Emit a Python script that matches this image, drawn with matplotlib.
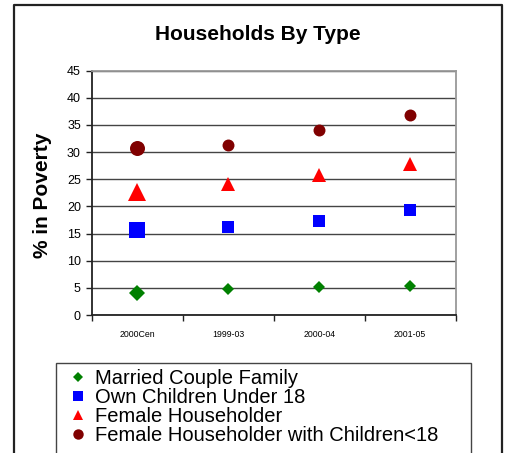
import matplotlib
matplotlib.use("Agg")
import matplotlib.pyplot as plt
from matplotlib.lines import Line2D
from matplotlib.patches import Rectangle

# Poverty rates (%) by household type across survey periods
periods = ["2000Cen", "1999-03", "2000-04", "2001-05"]
married_couple = [4.0, 4.7, 5.1, 5.4]
own_children_u18 = [15.6, 16.3, 17.4, 19.3]
female_householder = [22.7, 24.1, 25.8, 27.8]
female_hh_children = [30.7, 31.4, 34.0, 36.9]
series_names = ["Married Couple Family", "Own Children Under 18",
                "Female Householder", "Female Householder with Children<18"]

plt.rcParams["font.family"] = ["Liberation Sans", "DejaVu Sans"]

W, H = 507, 453
fig = plt.figure(figsize=(W / 100, H / 100), dpi=100)

def fx(px):
    return px / W

def fy(py):
    return 1 - py / H

# outer chart border (open at the bottom)
fig.add_artist(Line2D([fx(14), fx(14), fx(501.5), fx(501.5)],
                      [fy(460), fy(4.5), fy(4.5), fy(460)],
                      transform=fig.transFigure, color="#222222", lw=1.6))

ax = fig.add_axes([fx(92), fy(315), fx(455.5) - fx(92), fy(70.7) - fy(315)])

styles = [
    dict(marker="D", color="#008000", big=8.6, small=6.0),
    dict(marker="s", color="#0000FF", big=11.5, small=8.6),
    dict(marker="^", color="#FF0000", big=12.5, small=9.4),
    dict(marker="o", color="#800000", big=10.8, small=8.6),
]
data = [married_couple, own_children_u18, female_householder, female_hh_children]
xs = list(range(len(periods)))

for vals, st in zip(data, styles):
    for i, (x, v) in enumerate(zip(xs, vals)):
        ms = st["big"] if i == 0 else st["small"]
        ax.plot([x], [v], linestyle="none", marker=st["marker"], color=st["color"],
                markersize=ms, markeredgewidth=0, zorder=3, clip_on=False)

ax.set_xlim(-0.5, len(periods) - 0.5)
ax.set_ylim(0, 45)
ax.set_yticks(range(0, 46, 5))
ax.yaxis.grid(True, color="#444444", lw=1.0)
ax.set_axisbelow(True)

ax.set_xticks([i - 0.5 for i in range(len(periods) + 1)])
ax.set_xticklabels([])
ax.set_xticks(xs, minor=True)
ax.set_xticklabels(periods, minor=True, fontsize=6.3)
ax.tick_params(axis="x", which="major", direction="out", length=4, width=1, color="#222222")
ax.tick_params(axis="x", which="minor", length=0, pad=11)
ax.tick_params(axis="y", direction="out", length=4, width=1, color="#222222",
               labelsize=9, pad=4)

for side in ("left", "bottom"):
    ax.spines[side].set_color("#222222")
    ax.spines[side].set_linewidth(1.3)
for side in ("top", "right"):
    ax.spines[side].set_color("#999999")
    ax.spines[side].set_linewidth(1.3)

fig.text(fx(258), fy(35), "Households By Type", ha="center", va="center",
         fontsize=15, fontweight="bold")
fig.text(fx(43), fy(195), "% in Poverty", ha="center", va="center",
         rotation=90, fontsize=15, fontweight="bold")

# legend box (continues past the lower edge)
fig.add_artist(Rectangle((fx(55.5), fy(470)), fx(470.5) - fx(55.5), fy(362.5) - fy(470),
                         transform=fig.transFigure, fill=False,
                         edgecolor="#444444", lw=1.0))

handles = [Line2D([], [], linestyle="none", marker=st["marker"], color=st["color"],
                  markersize=7.5 if st["marker"] != "D" else 5.5, markeredgewidth=0)
           for st in styles]
fig.legend(handles, series_names, loc="upper left",
           bbox_to_anchor=(fx(70), fy(369)), frameon=False, fontsize=14.5,
           labelspacing=0.0, handlelength=0.8, handletextpad=0.45,
           borderpad=0, borderaxespad=0)

fig.savefig("out.png", dpi=100)
